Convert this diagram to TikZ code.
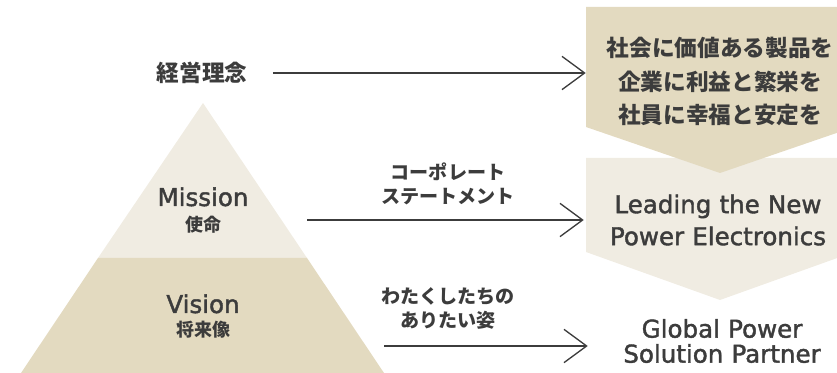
\documentclass[tikz,border=0pt]{standalone}
\usepackage{fontspec}
\setmainfont{DejaVu Sans}[FakeBold=1.6]
\newfontfamily\jp{Noto Sans CJK JP}
\usepackage{tikz}
\usetikzlibrary{arrows.meta, positioning}
\definecolor{sand}{HTML}{E3DAC0}
\definecolor{cream}{HTML}{F0ECE2}
\definecolor{ink}{HTML}{3C3C3C}
\tikzstyle{layer} = [inner sep=0, text=ink, font=\fontsize{18.4}{22}\selectfont]
\tikzstyle{sub} = [inner sep=0, text=ink, font=\jp\bfseries\fontsize{13.5}{16}\selectfont]
\tikzstyle{head} = [inner sep=0, text=ink, align=center,
    font=\jp\bfseries\fontsize{17}{25}\selectfont]
\tikzstyle{note} = [inner sep=0, text=ink, align=center,
    font=\jp\bfseries\fontsize{14.3}{17.5}\selectfont]
\tikzstyle{goal} = [inner sep=0, text=ink, align=center, text width=201pt]
\tikzstyle{link} = [draw=ink, line width=1pt,
    -{Straight Barb[length=17pt, width=25pt, line width=1pt]}]

\begin{document}
\begin{tikzpicture}[x=0.75pt, y=-0.75pt, node distance=8pt]
    \useasboundingbox (0,0) rectangle (837,373);
    \fill[cream] (203,103) -- (307,258) -- (98,258) -- cycle;
    \fill[sand] (98,258) -- (307,258) -- (384,373) -- (21,373) -- cycle;
    \fill[cream] (586,158) -- (854,158) -- (854,252) -- (720,300) -- (586,252) -- cycle;
    \fill[sand] (586,7) -- (854,7) -- (854,127) -- (720,173) -- (586,127) -- cycle;

    \node [head] (rinen) at (202,73) {経営理念};
    \node [layer, anchor=base] (mission) at (203,206) {Mission};
    \node [sub, below=7pt of mission.base] (shimei) {使命};
    \node [layer, anchor=base] (vision) at (203,313) {Vision};
    \node [sub, below=6pt of vision.base] (shorai) {将来像};

    \node [head, goal] (policy) at (720,81.5) {社会に価値ある製品を\\企業に利益と繁栄を\\社員に幸福と安定を};
    \node [goal, font=\fontsize{18.4}{24}\selectfont] (lead) at (718,220) {Leading the New\\Power Electronics};
    \node [goal, font=\fontsize{18.4}{18.75}\selectfont] (global) at (722,341) {Global Power\\Solution Partner};

    \node [note] (stmt) at (448,184) {コーポレート\\ステートメント};
    \node [note] (ideal) at (448,308.5) {わたくしたちの\\ありたい姿};

    \coordinate (m-out) at (307,220);
    \coordinate (v-out) at (384,346);
    \draw [link, shorten <=19pt] (rinen) -- (rinen -| policy.west);
    \draw [link] (m-out) -- (m-out -| lead.west);
    \draw [link] (v-out) -- (v-out -| global.west);
\end{tikzpicture}
\end{document}
